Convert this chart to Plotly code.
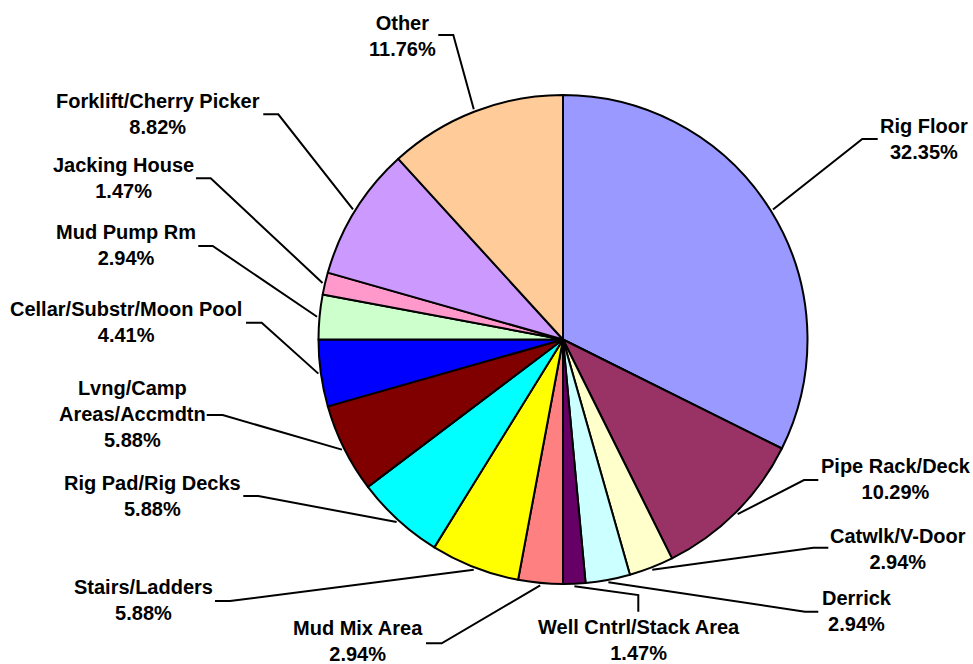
import math
import plotly.graph_objects as go

# ---- data ----
categories = ["Rig Floor", "Pipe Rack/Deck", "Catwlk/V-Door", "Derrick",
              "Well Cntrl/Stack Area", "Mud Mix Area", "Stairs/Ladders",
              "Rig Pad/Rig Decks", "Lvng/Camp Areas/Accmdtn",
              "Cellar/Substr/Moon Pool", "Mud Pump Rm", "Jacking House",
              "Forklift/Cherry Picker", "Other"]
counts = [22, 7, 2, 2, 1, 2, 4, 4, 4, 3, 2, 1, 6, 8]
display_labels = ["Rig Floor", "Pipe Rack/Deck", "Catwlk/V-Door", "Derrick",
                  "Well Cntrl/Stack Area", "Mud Mix Area", "Stairs/Ladders",
                  "Rig Pad/Rig Decks", "Lvng/Camp<br>Areas/Accmdtn",
                  "Cellar/Substr/Moon Pool", "Mud Pump Rm", "Jacking House",
                  "Forklift/Cherry Picker", "Other"]
colors = ["#9999FF", "#993366", "#FFFFCC", "#CCFFFF", "#660066", "#FF8080",
          "#FFFF00", "#00FFFF", "#800000", "#0000FF", "#CCFFCC", "#FF99CC",
          "#CC99FF", "#FFCC99"]

# ---- layout (pixel positions for label placement) ----
W, H = 973, 664
CX, CY, R = 563.0, 339.5, 244.5
R_ANCHOR = 247.0
elbow_x = [862.3, 804.0, 813.3, 805.0, 638.3, 441.7, 230.0, 258.3, 222.7, 261.7, 212.7, 210.7, 278.3, 453.3]
elbow_y = [139.0, 480.0, 547.7, 611.7, 595.0, 643.3, 601.0, 496.0, 415.0, 322.7, 246.0, 178.3, 114.3, 35.0]
stub_x = [877.7, 818.3, 828.3, 818.3, 638.3, 426.0, 215.0, 243.3, 206.7, 246.0, 198.3, 196.0, 263.3, 438.3]
stub_y = [139.0, 480.0, 547.7, 611.7, 611.7, 643.3, 601.0, 496.0, 415.0, 322.7, 246.0, 178.3, 114.3, 35.0]
text_x = [924.0, 896.0, 898.0, 856.5, 639.3, 357.7, 143.3, 152.3, 132.5, 126.3, 125.5, 123.0, 158.3, 402.3]
text_y = [138.5, 479.2, 548.5, 610.7, 640.0, 640.5, 599.7, 496.3, 414.2, 322.2, 245.0, 178.3, 113.8, 35.5]

total = sum(counts)

fig = go.Figure()

fig.add_trace(go.Pie(
    labels=categories, values=counts, sort=False, direction="clockwise",
    rotation=0, textinfo="none", hoverinfo="label+percent",
    marker=dict(colors=colors, line=dict(color="black", width=2)),
    domain=dict(x=[(CX - R) / W, (CX + R) / W],
                y=[(H - CY - R) / H, (H - CY + R) / H]),
    showlegend=False,
))

# leader lines computed from slice mid-angles
lx, ly = [], []
cum = 0
annotations = []
for i, v in enumerate(counts):
    mid = (cum + v / 2) / total * 2 * math.pi
    cum += v
    ax = CX + R_ANCHOR * math.sin(mid)
    ay = CY - R_ANCHOR * math.cos(mid)
    lx += [ax, elbow_x[i], stub_x[i], None]
    ly += [ay, elbow_y[i], stub_y[i], None]
    pct = f"{v / total * 100:.2f}%"
    annotations.append(dict(
        x=text_x[i], y=text_y[i], xref="x", yref="y",
        text=f"<b>{display_labels[i]}<br>{pct}</b>",
        showarrow=False, xanchor="center", yanchor="middle",
        align="center",
        font=dict(family="Liberation Sans, Arial, sans-serif", size=20, color="black"),
    ))

fig.add_trace(go.Scatter(x=lx, y=ly, mode="lines",
                         line=dict(color="black", width=2),
                         hoverinfo="skip", showlegend=False))

fig.update_layout(
    width=W, height=H,
    margin=dict(l=0, r=0, t=0, b=0, pad=0),
    paper_bgcolor="white", plot_bgcolor="rgba(0,0,0,0)",
    xaxis=dict(range=[0, W], visible=False, fixedrange=True, domain=[0, 1]),
    yaxis=dict(range=[H, 0], visible=False, fixedrange=True, domain=[0, 1]),
    annotations=annotations,
    showlegend=False,
)

fig.write_html(
    "out.html",
    config={"displayModeBar": False},
    post_script="document.body.style.margin='0';document.body.style.overflow='hidden';",
)
